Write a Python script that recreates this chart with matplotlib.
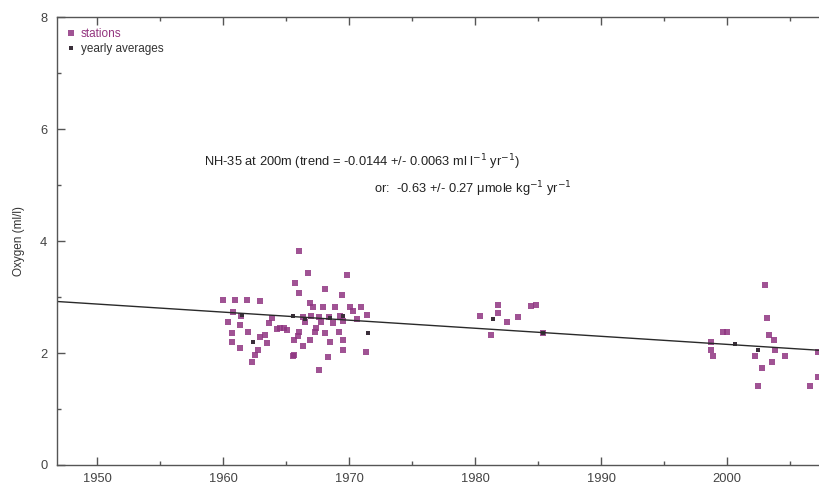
import numpy as np
import matplotlib.pyplot as plt
from matplotlib.ticker import MultipleLocator

plt.rcParams['font.family'] = ['Liberation Sans', 'DejaVu Sans']

# station values (year, oxygen ml/l)
st_year = [1960.0, 1960.95, 1961.9, 1962.9, 1960.8, 1961.4, 1960.4, 1961.3, 1960.7, 1962.0,
           1963.6, 1963.9, 1964.5, 1965.1, 1960.7, 1961.3, 1962.9, 1963.3, 1963.5, 1962.8,
           1962.5, 1962.3, 1964.3, 1964.8, 1965.5,
           1966.0, 1966.7, 1969.8, 1965.7, 1966.0, 1968.1, 1969.4, 1966.9,
           1967.1, 1967.9, 1968.9, 1970.1, 1970.9, 1971.4,
           1966.3, 1967.0, 1967.6, 1968.4, 1969.3,
           1966.5, 1967.8, 1968.7, 1969.5,
           1966.0, 1967.3, 1968.1, 1969.2,
           1965.6, 1966.9, 1968.5, 1969.5, 1969.5, 1971.3, 1965.6, 1968.3, 1967.6,
           1970.3, 1970.6, 1966.3, 1965.9, 1967.4,
           1980.4, 1981.8, 1981.8, 1982.5, 1983.4, 1984.4, 1984.8, 1981.3, 1985.4,
           1998.7, 1999.7, 2000.0, 2003.0, 2003.2, 2003.3, 2003.7, 1998.7, 1998.9,
           2002.2, 2003.8, 2004.6, 2003.6, 2002.8, 2002.5, 2006.6, 2007.2, 2007.2]
st_oxy = [2.94, 2.95, 2.95, 2.93, 2.73, 2.66, 2.55, 2.50, 2.36, 2.38,
          2.54, 2.63, 2.45, 2.41, 2.20, 2.09, 2.29, 2.32, 2.18, 2.05,
          1.96, 1.84, 2.43, 2.45, 1.95,
          3.83, 3.43, 3.40, 3.25, 3.08, 3.14, 3.04, 2.90,
          2.83, 2.83, 2.82, 2.83, 2.82, 2.68,
          2.64, 2.66, 2.65, 2.64, 2.66,
          2.55, 2.56, 2.54, 2.57,
          2.37, 2.38, 2.36, 2.38,
          2.23, 2.23, 2.20, 2.23, 2.05, 2.02, 1.96, 1.93, 1.70,
          2.75, 2.60, 2.12, 2.30, 2.45,
          2.67, 2.86, 2.71, 2.55, 2.64, 2.84, 2.86, 2.32, 2.36,
          2.20, 2.38, 2.38, 3.22, 2.63, 2.32, 2.23, 2.05, 1.95,
          1.95, 2.05, 1.95, 1.84, 1.73, 1.42, 1.42, 2.02, 1.57]

# yearly averages
avg_year = [1961.5, 1962.4, 1965.5, 1966.5, 1968.5, 1969.5, 1971.5, 1981.4, 1985.4, 2000.6, 2002.5]
avg_oxy = [2.68, 2.20, 2.66, 2.60, 2.63, 2.66, 2.36, 2.61, 2.36, 2.16, 2.05]

# trend
trend_slope = -0.0144
trend_at_1950 = 2.875
trend_years = [1946.8, 2009.5]

fig = plt.figure(figsize=(8.2, 4.97), dpi=100)
# axes runs past the right edge, like the cropped original
ax = fig.add_axes([0.0695, 0.0644, 0.963, 0.901])

ax.plot(st_year, st_oxy, 's', color='#8f3582', alpha=0.85, markersize=4.6,
        markeredgewidth=0, label='stations')
ax.plot(avg_year, avg_oxy, 's', color='#3a2f3a', markersize=3.2,
        markeredgewidth=0, label='yearly averages')

ty = np.array(trend_years)
ax.plot(ty, trend_at_1950 + trend_slope * (ty - 1950), color='#2a2a2a', lw=1.0)

ax.set_xlim(1946.8, 2009.5)
ax.set_ylim(0, 8)
ax.xaxis.set_major_locator(MultipleLocator(10))
ax.xaxis.set_minor_locator(MultipleLocator(5))
ax.yaxis.set_major_locator(MultipleLocator(2))
ax.yaxis.set_minor_locator(MultipleLocator(1))
ax.tick_params(which='both', direction='in', top=True, right=True,
               colors='#555555', labelcolor='#444444', labelsize=9.3)
ax.tick_params(which='major', length=6, width=1)
ax.tick_params(which='minor', length=3, width=1)
ax.tick_params(axis='y', pad=7)
ax.tick_params(axis='x', pad=6)
for s in ax.spines.values():
    s.set_color('#555555')
    s.set_linewidth(1.0)

ax.set_ylabel('Oxygen (ml/l)', fontsize=8.5, color='#333333', labelpad=11)

ax.text(1958.5, 5.41, 'NH-35 at 200m (trend = -0.0144 +/- 0.0063 ml l$^{-1}$ yr$^{-1}$)',
        fontsize=9.3, color='#222222', va='center')
ax.text(1972.0, 4.93, 'or:  -0.63 +/- 0.27 \u03bcmole kg$^{-1}$ yr$^{-1}$',
        fontsize=9.3, color='#222222', va='center')

leg = ax.legend(loc='upper left', frameon=False, fontsize=8.5, handletextpad=0.3,
                handlelength=1.0, borderaxespad=0.3, labelspacing=0.25,
                bbox_to_anchor=(0.0, 0.995))
leg.get_texts()[0].set_color('#93357f')
leg.get_texts()[1].set_color('#333333')

fig.savefig('out.png', dpi=100)
